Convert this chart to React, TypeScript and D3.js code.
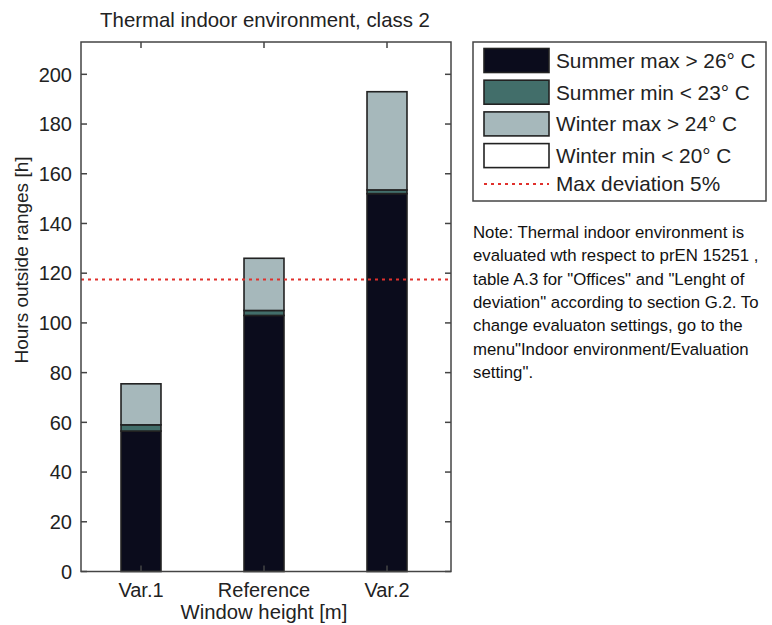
import React from "react";
import * as d3 from "d3";

const categories = ["Var.1", "Reference", "Var.2"];
const summerMax = [56.5, 103, 152];
const summerMin = [2.5, 2, 1.5];
const winterMax = [16.5, 21, 39.5];
const winterMin = [0, 0, 0];
const maxDeviation = 117.5;
const yTicks = [0, 20, 40, 60, 80, 100, 120, 140, 160, 180, 200];
const seriesNames = ["Summer max > 26\u00b0 C", "Summer min < 23\u00b0 C", "Winter max > 24\u00b0 C", "Winter min < 20\u00b0 C"];
const seriesColors = ["#0b0c1c", "#426e6a", "#a6b8bb", "#ffffff"];
const noteLines = [
  "Note: Thermal indoor environment is",
  "evaluated wth respect to prEN 15251 ,",
  "table A.3 for \"Offices\" and \"Lenght of",
  "deviation\" according to section G.2. To",
  "change evaluaton settings, go to the",
  "menu\"Indoor environment/Evaluation",
  "setting\".",
];

const W = 772, H = 625;
const L = 81, R = 451, T = 42, B = 571.5;
const FONT = "'Liberation Sans', Arial, sans-serif";

export default function App() {
  const x = d3.scaleLinear().domain([0.5, 3.5]).range([79.5, 448.5]);
  const y = d3.scaleLinear().domain([0, 213]).range([B, T]);
  const barW = x(1.325) - x(1);
  const rows = categories.map((c, i) => ({ cat: c, s0: summerMax[i], s1: summerMin[i], s2: winterMax[i], s3: winterMin[i] }));
  const stack = d3.stack<any>().keys(["s0", "s1", "s2", "s3"])(rows);
  const edge = "#222";
  return (
    <svg width={W} height={H} style={{ position: "absolute", left: 0, top: 0, background: "#fff" }} fontFamily={FONT}>
      <rect x={0} y={0} width={W} height={H} fill="#fff" />
      <text x={265} y={27} textAnchor="middle" fontSize={20.4} fill="#222">Thermal indoor environment, class 2</text>
      {stack.map((layer, si) =>
        layer.map((d, i) => {
          const h = y(d[0]) - y(d[1]);
          if (h <= 0) return null;
          return (
            <rect key={si + "-" + i} x={x(i + 1) - barW / 2} y={y(d[1])} width={barW} height={h}
              fill={seriesColors[si]} stroke={edge} strokeWidth={1.6} />
          );
        })
      )}
      <line x1={L} x2={R} y1={y(maxDeviation)} y2={y(maxDeviation)} stroke="#e0302c" strokeWidth={2} strokeDasharray="3,4" />
      <rect x={L} y={T} width={R - L} height={B - T} fill="none" stroke="#444" strokeWidth={1.5} />
      {yTicks.map((t) => (
        <g key={t}>
          <line x1={L} x2={L + 6} y1={y(t)} y2={y(t)} stroke="#444" strokeWidth={1.5} />
          <line x1={R - 6} x2={R} y1={y(t)} y2={y(t)} stroke="#444" strokeWidth={1.5} />
          <text x={72} y={y(t)} dy="0.36em" textAnchor="end" fontSize={20} fill="#222">{t}</text>
        </g>
      ))}
      {categories.map((c, i) => (
        <g key={c}>
          <line x1={x(i + 1)} x2={x(i + 1)} y1={B} y2={B - 6} stroke="#444" strokeWidth={1.5} />
          <line x1={x(i + 1)} x2={x(i + 1)} y1={T} y2={T + 6} stroke="#444" strokeWidth={1.5} />
          <text x={x(i + 1)} y={597} textAnchor="middle" fontSize={20} fill="#222">{c}</text>
        </g>
      ))}
      <text x={264} y={619} textAnchor="middle" fontSize={20.3} fill="#222">Window height [m]</text>
      <text transform={`translate(28,260) rotate(-90)`} textAnchor="middle" fontSize={19} fill="#222">Hours outside ranges [h]</text>
      <rect x={473} y={42} width={293} height={159} fill="#fff" stroke="#444" strokeWidth={1.5} />
      {seriesNames.map((n, i) => (
        <g key={n}>
          <rect x={484} y={48.5 + i * 31.7} width={65} height={24} fill={seriesColors[i]} stroke={edge} strokeWidth={1.6} />
          <text x={556} y={60.5 + i * 31.7} dy="0.36em" fontSize={20.8} fill="#222">{n}</text>
        </g>
      ))}
      <line x1={484} x2={549} y1={184} y2={184} stroke="#e0302c" strokeWidth={2} strokeDasharray="3,4" />
      <text x={556} y={184} dy="0.36em" fontSize={20.8} fill="#222">Max deviation 5%</text>
      {noteLines.map((l, i) => (
        <text key={i} x={473} y={238 + i * 23.3} fontSize={16.8} fill="#111">{l}</text>
      ))}
    </svg>
  );
}
